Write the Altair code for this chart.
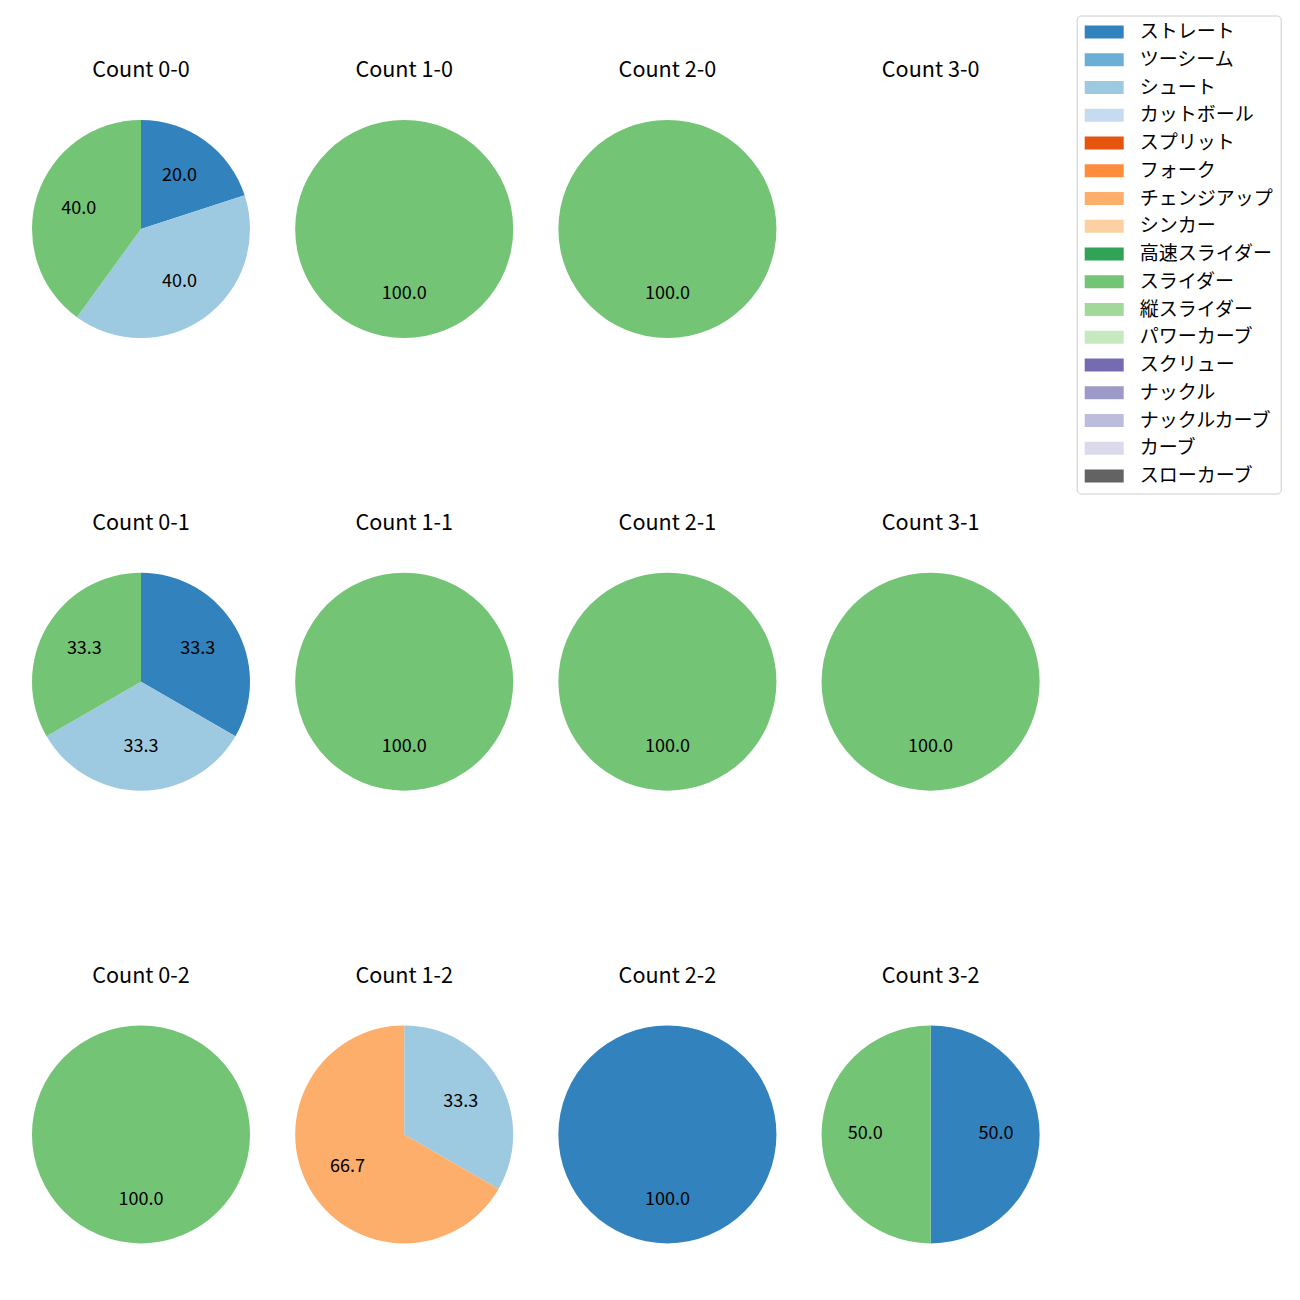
import altair as alt
import pandas as pd

FONT = "Noto Sans CJK JP"

pitch_types = ["ストレート", "ツーシーム", "シュート", "カットボール", "スプリット", "フォーク",
               "チェンジアップ", "シンカー", "高速スライダー", "スライダー", "縦スライダー",
               "パワーカーブ", "スクリュー", "ナックル", "ナックルカーブ", "カーブ", "スローカーブ"]
pitch_colors = ["#3182bd", "#6baed6", "#9ecae1", "#c6dbef", "#e6550d", "#fd8d3c",
                "#fdae6b", "#fdd0a2", "#31a354", "#74c476", "#a1d99b", "#c7e9c0",
                "#756bb1", "#9e9ac8", "#bcbddc", "#dadaeb", "#636363"]

count_order = ["0-0", "1-0", "2-0", "3-0",
               "0-1", "1-1", "2-1", "3-1",
               "0-2", "1-2", "2-2", "3-2"]

row_count = ["0-0", "0-0", "0-0", "1-0", "2-0",
             "0-1", "0-1", "0-1", "1-1", "2-1", "3-1",
             "0-2", "1-2", "1-2", "2-2", "3-2", "3-2"]
row_pitch = ["ストレート", "シュート", "スライダー", "スライダー", "スライダー",
             "ストレート", "シュート", "スライダー", "スライダー", "スライダー", "スライダー",
             "スライダー", "シュート", "チェンジアップ", "ストレート", "ストレート", "スライダー"]
row_n = [1, 2, 2, 1, 1,
         1, 1, 1, 1, 1, 1,
         1, 1, 2, 1, 1, 1]

df = pd.DataFrame({
    "cnt": row_count,
    "pitch": row_pitch,
    "n": row_n,
    "idx": [pitch_types.index(p) for p in row_pitch],
})

R = 109
SIZE = 218

color_enc = alt.Color(
    "pitch:N",
    scale=alt.Scale(domain=pitch_types, range=pitch_colors),
    legend=alt.Legend(
        title=None, orient="none", legendX=1044.7, legendY=-104.5,
        symbolType="M-3,-1H3V1H-3Z", symbolSize=169, symbolOffset=11,
        symbolStrokeWidth=0, symbolOpacity=1, labelOffset=26,
        labelFont=FONT, labelFontSize=19, labelColor="black",
        rowPadding=7.75, strokeColor="#cccccc", cornerRadius=4,
        padding=7, fillColor="white", labelLimit=300,
    ),
)


def panel(c):
    base = alt.Chart(df).transform_filter(
        alt.datum.cnt == c
    ).transform_joinaggregate(
        total="sum(n)"
    ).transform_calculate(
        pct="100 * datum.n / datum.total"
    ).encode(
        theta=alt.Theta("n:Q", stack=True),
        order=alt.Order("idx:Q"),
    )
    arcs = base.mark_arc(outerRadius=R).encode(color=color_enc)
    text = base.mark_text(radius=R * 0.6, font=FONT, fontSize=18, color="black").encode(
        text=alt.Text("pct:Q", format=".1f"),
        detail=alt.Detail("pitch:N"),
    )
    return alt.layer(arcs, text).properties(
        width=SIZE, height=SIZE,
        title=alt.Title(f"Count {c}", font=FONT, fontSize=21.6, fontWeight="normal",
                        color="black", anchor="middle", offset=38),
    )


rows = []
for r in range(3):
    rows.append(alt.hconcat(*[panel(c) for c in count_order[r * 4:(r + 1) * 4]],
                            spacing=45.2, bounds="flush"))

chart = alt.vconcat(*rows, spacing=452.7, bounds="flush").properties(
    padding={"left": 24, "top": 7, "right": 5, "bottom": 5}
).configure_view(strokeWidth=0)

chart.save("out.html", embed_options={"renderer": "svg", "actions": False})
